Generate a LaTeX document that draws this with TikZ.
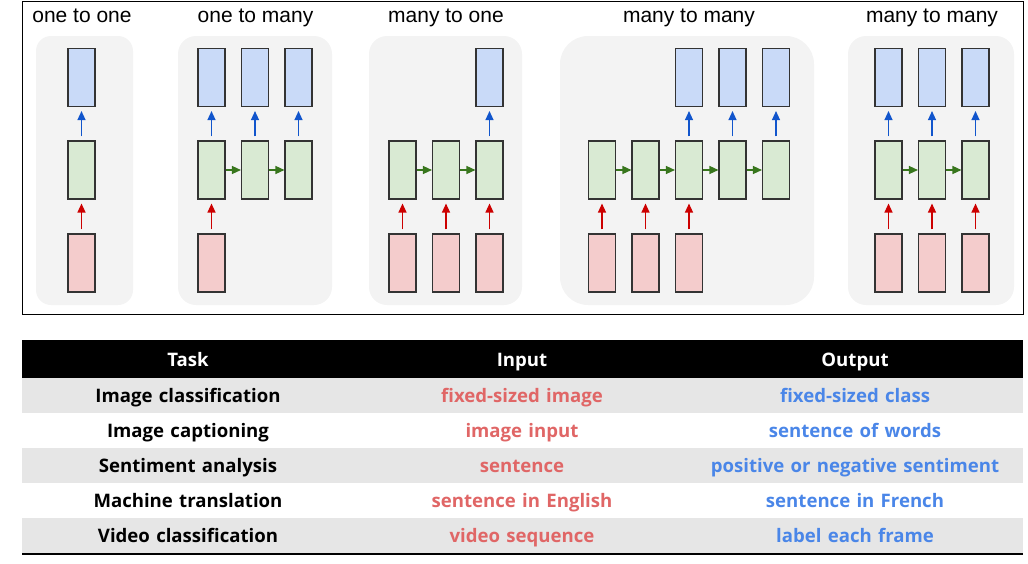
\documentclass[tikz,border=0pt]{standalone}
\usepackage{fontspec}
\setmainfont{Liberation Sans}
\newfontfamily\tabfont{Open Sans}[WordSpace=1.3]
\usetikzlibrary{arrows.meta}
\definecolor{panelgray}{HTML}{F3F3F3}
\definecolor{boxline}{HTML}{333333}
\definecolor{outfill}{HTML}{C9DAF8}
\definecolor{hidfill}{HTML}{D9EAD3}
\definecolor{infill}{HTML}{F4CCCC}
\definecolor{redarr}{HTML}{CC0000}
\definecolor{bluearr}{HTML}{1155CC}
\definecolor{greenarr}{HTML}{38761D}
\definecolor{rowgray}{HTML}{E6E6E6}
\definecolor{inptext}{HTML}{E06666}
\definecolor{outtext}{HTML}{4A86E8}

\begin{document}
\begin{tikzpicture}[x=1pt,y=-1pt]
    \tikzset{
        box/.style={draw=boxline,line width=1.1pt,minimum width=27pt,
                    minimum height=58pt,inner sep=0pt},
        inbox/.style={box,fill=infill},
        hidbox/.style={box,fill=hidfill},
        outbox/.style={box,fill=outfill},
        uparrow/.style={line width=1.3pt,shorten <=4pt,shorten >=4pt,
                    -{Triangle[length=9pt,width=8pt]}},
        inarrow/.style={uparrow,redarr},
        outarrow/.style={uparrow,bluearr},
        recarrow/.style={line width=1.3pt,greenarr,
                    -{Triangle[length=9pt,width=8pt]}},
        title/.style={anchor=base,font=\fontsize{21}{24}\selectfont},
        cell/.style={anchor=base,font=\tabfont\bfseries\fontsize{18.6}{22}\selectfont}
    }
    \def\yo{77.5}
    \def\yh{170}
    \def\yi{263}
    \useasboundingbox (0,0) rectangle (1028,563);
    \draw[line width=0.8pt] (22,1) rectangle (1023,314);
    \fill[panelgray,rounded corners=15pt] (36,36) rectangle (133,305);
    \fill[panelgray,rounded corners=18pt] (178,36) rectangle (332,305);
    \fill[panelgray,rounded corners=18pt] (369,36) rectangle (522,305);
    \fill[panelgray,rounded corners=28pt] (560,36) rectangle (814,305);
    \fill[panelgray,rounded corners=18pt] (848,36) rectangle (1014,305);
    \node[title] (t1) at (82,22) {one to one};
    \node[title] (t2) at (255.5,22) {one to many};
    \node[title] (t3) at (446,22) {many to one};
    \node[title] (t4) at (689,22) {many to many};
    \node[title] (t5) at (932,22) {many to many};
    % one to one
    \node[inbox] (ax1) at (81.5,\yi) {};
    \node[hidbox] (ah1) at (81.5,\yh) {};
    \node[outbox] (ay1) at (81.5,\yo) {};
    \draw[inarrow] (ax1) -- (ah1);
    \draw[outarrow] (ah1) -- (ay1);
    % one to many
    \foreach \x [count=\i] in {211.5,255,298.5}{
        \node[hidbox] (bh\i) at (\x,\yh) {};
        \node[outbox] (by\i) at (\x,\yo) {};
        \draw[outarrow] (bh\i) -- (by\i);
    }
    \node[inbox] (bx1) at (211.5,\yi) {};
    \draw[inarrow] (bx1) -- (bh1);
    \draw[recarrow] (bh1) -- (bh2);
    \draw[recarrow] (bh2) -- (bh3);
    % many to one
    \foreach \x [count=\i] in {402.5,446,489.5}{
        \node[inbox] (cx\i) at (\x,\yi) {};
        \node[hidbox] (ch\i) at (\x,\yh) {};
        \draw[inarrow] (cx\i) -- (ch\i);
    }
    \node[outbox] (cy3) at (489.5,\yo) {};
    \draw[outarrow] (ch3) -- (cy3);
    \draw[recarrow] (ch1) -- (ch2);
    \draw[recarrow] (ch2) -- (ch3);
    % many to many (delayed)
    \foreach \x [count=\i] in {602,645.5,689,732.5,776}
        \node[hidbox] (dh\i) at (\x,\yh) {};
    \foreach \i in {1,2,3}{
        \node[inbox] (dx\i) at (dh\i|-0,\yi) {};
        \draw[inarrow] (dx\i) -- (dh\i);
    }
    \foreach \i in {3,4,5}{
        \node[outbox] (dy\i) at (dh\i|-0,\yo) {};
        \draw[outarrow] (dh\i) -- (dy\i);
    }
    \foreach \i/\j in {1/2,2/3,3/4,4/5}
        \draw[recarrow] (dh\i) -- (dh\j);
    % many to many (synced)
    \foreach \x [count=\i] in {888.5,932,975.5}{
        \node[inbox] (ex\i) at (\x,\yi) {};
        \node[hidbox] (eh\i) at (\x,\yh) {};
        \node[outbox] (ey\i) at (\x,\yo) {};
        \draw[inarrow] (ex\i) -- (eh\i);
        \draw[outarrow] (eh\i) -- (ey\i);
    }
    \draw[recarrow] (eh1) -- (eh2);
    \draw[recarrow] (eh2) -- (eh3);
    % table
    \fill[black] (22,340) rectangle (1023,378);
    \node[cell,white] (task) at (188,366) {Task};
    \node[cell,white] (input) at (522,366) {Input};
    \node[cell,white] (output) at (855,366) {Output};
    \foreach \task/\inp/\out [count=\r] in {
        Image classification/fixed-sized image/fixed-sized class,
        Image captioning/image input/sentence of words,
        Sentiment analysis/sentence/positive or negative sentiment,
        Machine translation/sentence in English/sentence in French,
        Video classification/video sequence/label each frame}{
        \pgfmathsetmacro\ytop{378+35*(\r-1)}
        \ifodd\r
            \fill[rowgray] (22,\ytop) rectangle (1023,\ytop+35);
        \fi
        \node[cell,black] (task\r) at (188,\ytop+24.5) {\task};
        \node[cell,inptext] (inp\r) at (522,\ytop+24.5) {\inp};
        \node[cell,outtext] (out\r) at (855,\ytop+24.5) {\out};
    }
    \draw[line width=2.5pt] (22,554) -- (1023,554);
\end{tikzpicture}
\end{document}
